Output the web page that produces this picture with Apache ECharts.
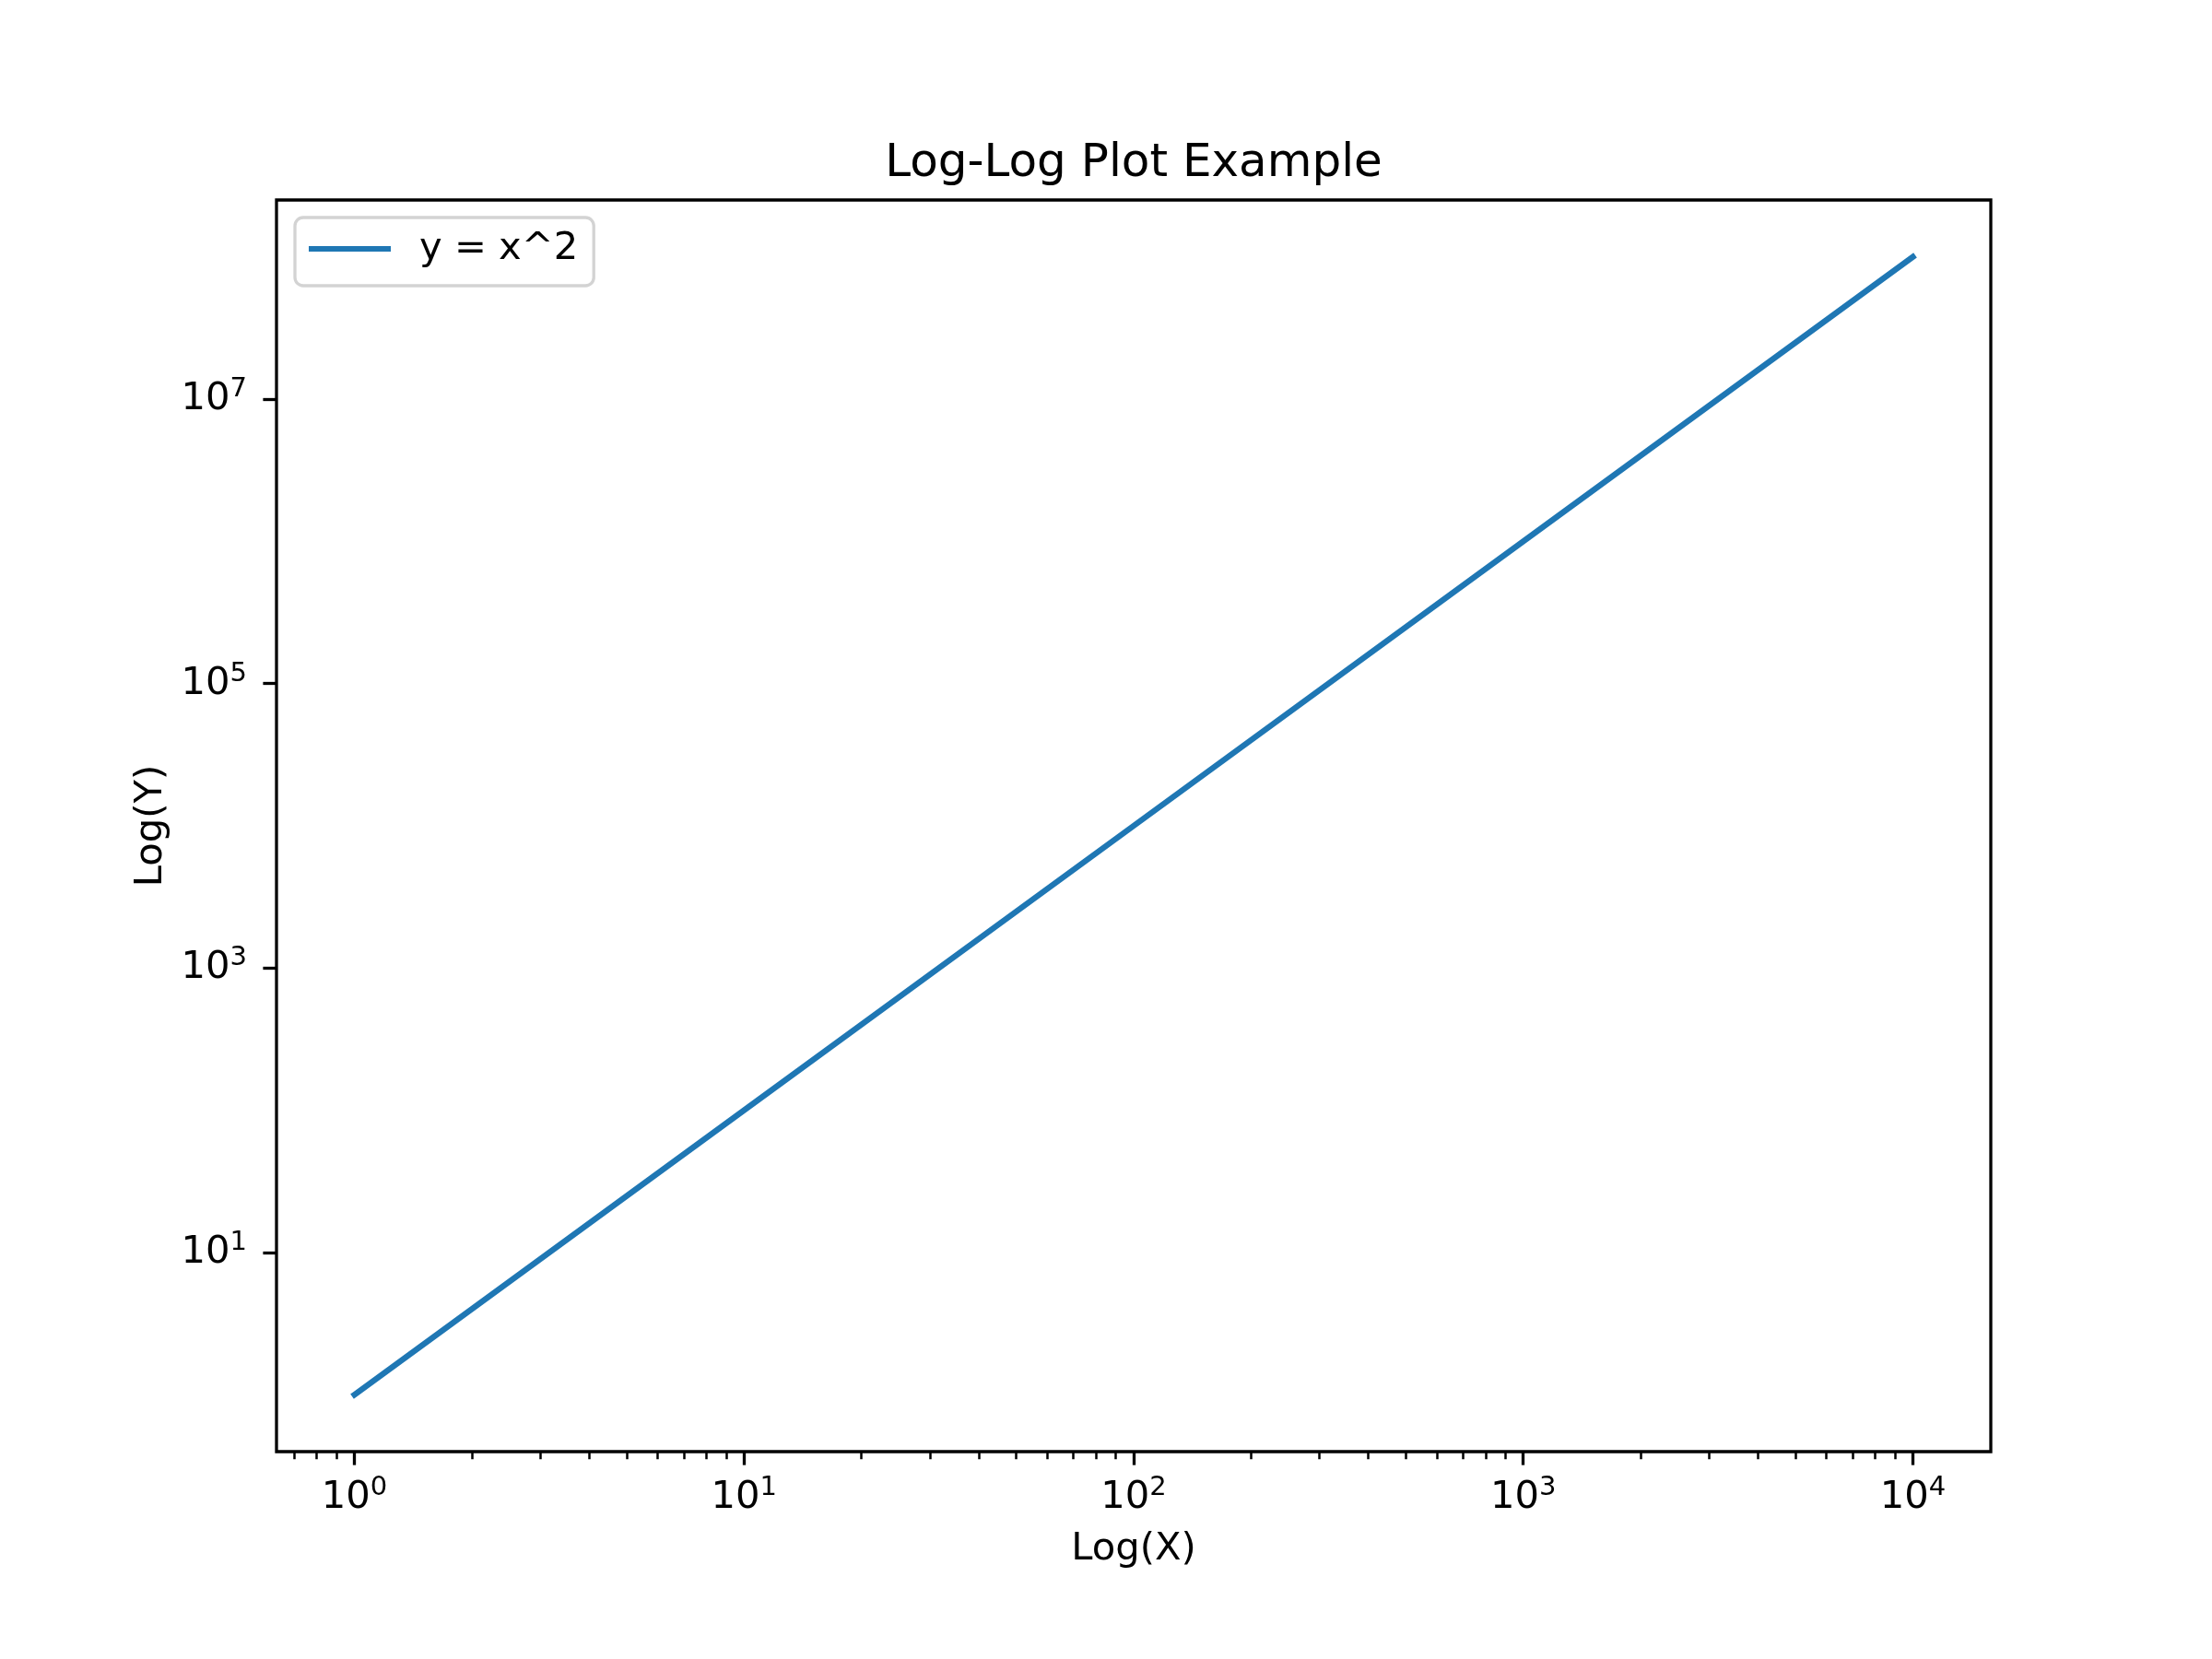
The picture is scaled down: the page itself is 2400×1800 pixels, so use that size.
<!DOCTYPE html>
<html><head><meta charset="utf-8">
<script src="https://cdn.jsdelivr.net/npm/echarts@6/dist/echarts.min.js"></script>
<style>html,body{margin:0;padding:0;background:#fff}#c{width:2400px;height:1800px}</style>
</head><body><div id="c"></div>
<script>
// ---- data ----
const xValues = [1, 10, 100, 1000, 10000];
const yValues = [1, 100, 10000, 1000000, 100000000];
const seriesName = 'y = x^2';
const xMajorTickExponents = [0, 1, 2, 3, 4];
const xMinorTickValues = [0.7, 0.8, 0.9,
  2, 3, 4, 5, 6, 7, 8, 9,
  20, 30, 40, 50, 60, 70, 80, 90,
  200, 300, 400, 500, 600, 700, 800, 900,
  2000, 3000, 4000, 5000, 6000, 7000, 8000, 9000];
const yMajorTickExponents = [1, 3, 5, 7];
const xLimitsLog = [-0.2, 4.2];
const yLimitsLog = [-0.4, 8.4];
const titleText = 'Log-Log Plot Example';
const xAxisName = 'Log(X)';
const yAxisName = 'Log(Y)';

// ---- build options ----
const FONT = 'DejaVu Sans';
const lineData = xValues.map((x, i) => [Math.log10(x), Math.log10(yValues[i])]);
const rich = {
  b: { fontSize: 41.7, lineHeight: 50, fontFamily: FONT, color: '#000' },
  s: { fontSize: 29, lineHeight: 29, fontFamily: FONT, color: '#000', verticalAlign: 'top' }
};
const powLabel = v => '{b|10}{s|' + Math.round(v) + '}';

const chart = echarts.init(document.getElementById('c'), null, { renderer: 'canvas' });
chart.setOption({
  animation: false,
  backgroundColor: '#fff',
  title: {
    text: titleText,
    left: 1230,
    textAlign: 'center',
    top: 153,
    padding: 0,
    textStyle: { fontFamily: FONT, fontSize: 50, fontWeight: 'normal', color: '#000', lineHeight: 50 }
  },
  legend: {
    left: 320, top: 236,
    padding: [13, 17, 19, 15],
    backgroundColor: '#fff',
    borderColor: '#d3d3d3',
    borderWidth: 3.3,
    borderRadius: 9,
    itemWidth: 89,
    itemHeight: 6,
    icon: 'rect',
    selectedMode: false,
    textStyle: { fontFamily: FONT, fontSize: 41.7, color: '#000', lineHeight: 42, padding: [0, 0, 0, 26] },
    data: [{ name: seriesName, icon: 'rect' }]
  },
  grid: {
    left: 300, top: 217, width: 1860, height: 1358,
    show: true, borderColor: '#000', borderWidth: 3.3,
    outerBoundsMode: 'none', containLabel: false
  },
  xAxis: [
    {
      type: 'value', position: 'bottom', gridIndex: 0,
      min: xLimitsLog[0], max: xLimitsLog[1],
      name: xAxisName, nameLocation: 'middle', nameGap: 85,
      nameTextStyle: { fontFamily: FONT, fontSize: 41.7, color: '#000', lineHeight: 41.7 },
      axisLine: { show: false, onZero: false },
      splitLine: { show: false },
      axisTick: { show: true, length: 14.6, lineStyle: { color: '#000', width: 3.3 }, customValues: xMajorTickExponents },
      axisLabel: { show: true, margin: 25, customValues: xMajorTickExponents, formatter: powLabel, rich: rich }
    },
    {
      type: 'value', position: 'bottom', gridIndex: 0,
      min: xLimitsLog[0], max: xLimitsLog[1],
      axisLine: { show: false, onZero: false },
      splitLine: { show: false },
      axisLabel: { show: false },
      axisTick: { show: true, length: 8.3, lineStyle: { color: '#000', width: 2.5 }, customValues: xMinorTickValues.map(v => Math.log10(v)) }
    }
  ],
  yAxis: [
    {
      type: 'value', position: 'left', gridIndex: 0,
      min: yLimitsLog[0], max: yLimitsLog[1],
      name: yAxisName, nameLocation: 'middle', nameGap: 115,
      nameTextStyle: { fontFamily: FONT, fontSize: 41.7, color: '#000', lineHeight: 41.7 },
      axisLine: { show: false, onZero: false },
      splitLine: { show: false },
      axisTick: { show: true, length: 14.6, lineStyle: { color: '#000', width: 3.3 }, customValues: yMajorTickExponents },
      axisLabel: { show: true, margin: 32, customValues: yMajorTickExponents, formatter: powLabel, rich: rich }
    }
  ],
  series: [
    {
      name: seriesName,
      type: 'line',
      xAxisIndex: 0, yAxisIndex: 0,
      data: lineData,
      showSymbol: false,
      symbol: 'none',
      lineStyle: { color: '#1f77b4', width: 6.25, cap: 'square' },
      itemStyle: { color: '#1f77b4' },
      emphasis: { disabled: true }
    }
  ]
});
</script>
</body></html>
